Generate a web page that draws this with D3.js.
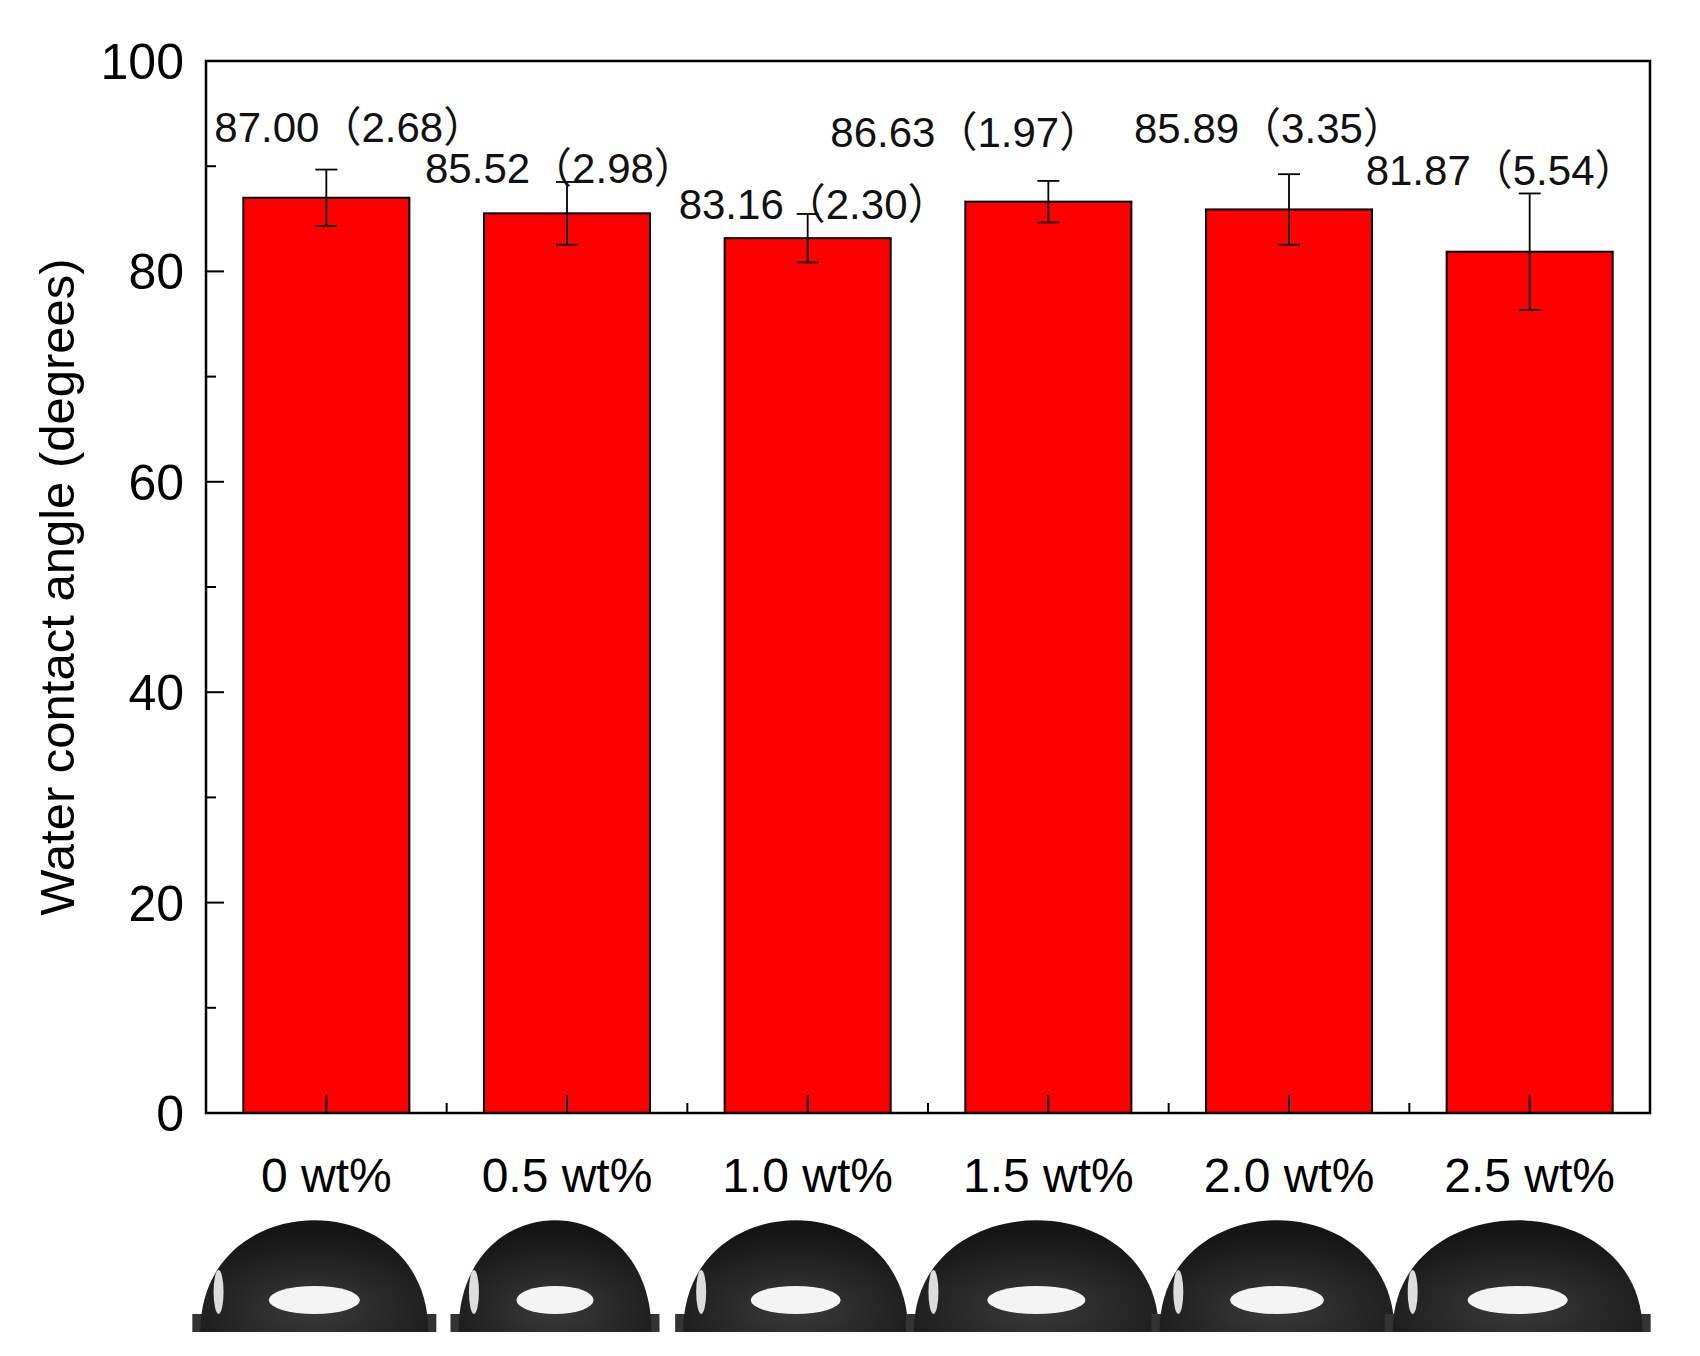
<!DOCTYPE html>
<html><head><meta charset="utf-8">
<script src="https://cdn.jsdelivr.net/npm/d3@7/dist/d3.min.js"></script>
<style>body{margin:0;background:#fff}</style>
</head><body>
<svg id="c" width="1700" height="1356"></svg>
<script>
const categories = ["0 wt%","0.5 wt%","1.0 wt%","1.5 wt%","2.0 wt%","2.5 wt%"];
const angles = [87.00, 85.52, 83.16, 86.63, 85.89, 81.87];
const errors = [2.68, 2.98, 2.30, 1.97, 3.35, 5.54];
const yTicks = [0,20,40,60,80,100];
const yLabel = "Water contact angle (degrees)";

// layout (not data)
const labelDX = [-112, -142, -129, -218, -155, -164];
const labelCY = [127, 168, 204, 132, 128, 170];
const dropW = [228,193,225,245,235,250];

const svg = d3.select("#c");
const L=206, R=1650, T=61, B=1113;
const x = d3.scaleBand().domain(categories).range([L,R]).paddingInner(0.31).paddingOuter(0.155);
const y = d3.scaleLinear().domain([0,100]).range([B,T]);
const font = "'Liberation Sans', Arial, 'Noto Sans CJK SC', sans-serif";

svg.selectAll("rect.bar").data(angles).enter().append("rect")
  .attr("x",(d,i)=>x(categories[i])).attr("width",x.bandwidth())
  .attr("y",d=>y(d)).attr("height",d=>B-y(d))
  .attr("fill","#ff0000").attr("stroke","#000").attr("stroke-width",2);

const g = svg.append("g");
d3.range(0,101,10).forEach(v=>{
  const major = v%20===0;
  g.append("line").attr("x1",L).attr("x2",L+(major?18:10)).attr("y1",y(v)).attr("y2",y(v)).attr("stroke","#000").attr("stroke-width",2);
});
const step = x.step();
categories.forEach((c,i)=>{
  const cx = x(c)+x.bandwidth()/2;
  g.append("line").attr("x1",cx).attr("x2",cx).attr("y1",B).attr("y2",B-18).attr("stroke","#000").attr("stroke-width",2);
  if(i<categories.length-1)
    g.append("line").attr("x1",cx+step/2).attr("x2",cx+step/2).attr("y1",B).attr("y2",B-10).attr("stroke","#000").attr("stroke-width",2);
});
svg.append("rect").attr("x",L).attr("y",T).attr("width",R-L).attr("height",B-T).attr("fill","none").attr("stroke","#000").attr("stroke-width",2.5);

svg.selectAll("text.yt").data(yTicks).enter().append("text")
  .attr("x",L-22).attr("y",d=>y(d)).attr("dy","0.36em").attr("text-anchor","end")
  .attr("font-family",font).attr("font-size",50).text(d=>d);
svg.append("text").attr("transform",`translate(74,${(T+B)/2}) rotate(-90)`)
  .attr("text-anchor","middle").attr("font-family",font).attr("font-size",49).text(yLabel);

svg.selectAll("text.xt").data(categories).enter().append("text")
  .attr("x",d=>x(d)+x.bandwidth()/2).attr("y",1192).attr("text-anchor","middle")
  .attr("font-family",font).attr("font-size",48).text(d=>d);

angles.forEach((v,i)=>{
  const cx = x(categories[i])+x.bandwidth()/2, e=errors[i];
  const eg = svg.append("g").attr("stroke","#000").attr("stroke-width",1.8);
  eg.append("line").attr("x1",cx).attr("x2",cx).attr("y1",y(v-e)).attr("y2",y(v+e));
  [v-e,v+e].forEach(t=>eg.append("line").attr("x1",cx-11).attr("x2",cx+11).attr("y1",y(t)).attr("y2",y(t)));
  svg.append("text").attr("x",cx+labelDX[i]).attr("y",labelCY[i]).attr("dy","0.36em")
    .attr("font-family",font).attr("font-size",42).attr("fill","#111")
    .text(v.toFixed(2)+"（"+errors[i].toFixed(2)+"）");
});

const defs = svg.append("defs");
const gr = defs.append("radialGradient").attr("id","dg").attr("cx","50%").attr("cy","80%").attr("r","70%");
gr.append("stop").attr("offset","0%").attr("stop-color","#3a3a3a");
gr.append("stop").attr("offset","100%").attr("stop-color","#151515");
categories.forEach((c,i)=>{
  const cx = x(c)+x.bandwidth()/2 - 12;
  const w = dropW[i], h=112, base=1332;
  const dg = svg.append("g");
  dg.append("rect").attr("x",cx-w/2-8).attr("y",base-18).attr("width",w+16).attr("height",18).attr("fill","#333");
  dg.append("path").attr("d",`M${cx-w/2},${base} C${cx-w/2},${base-h*1.33} ${cx+w/2},${base-h*1.33} ${cx+w/2},${base} Z`)
    .attr("fill","url(#dg)");
  dg.append("ellipse").attr("cx",cx).attr("cy",base-32).attr("rx",w*0.2).attr("ry",14).attr("fill","#f4f4f4");
  dg.append("ellipse").attr("cx",cx-w*0.42).attr("cy",base-40).attr("rx",5).attr("ry",22).attr("fill","#ddd");
});
</script>
</body></html>
